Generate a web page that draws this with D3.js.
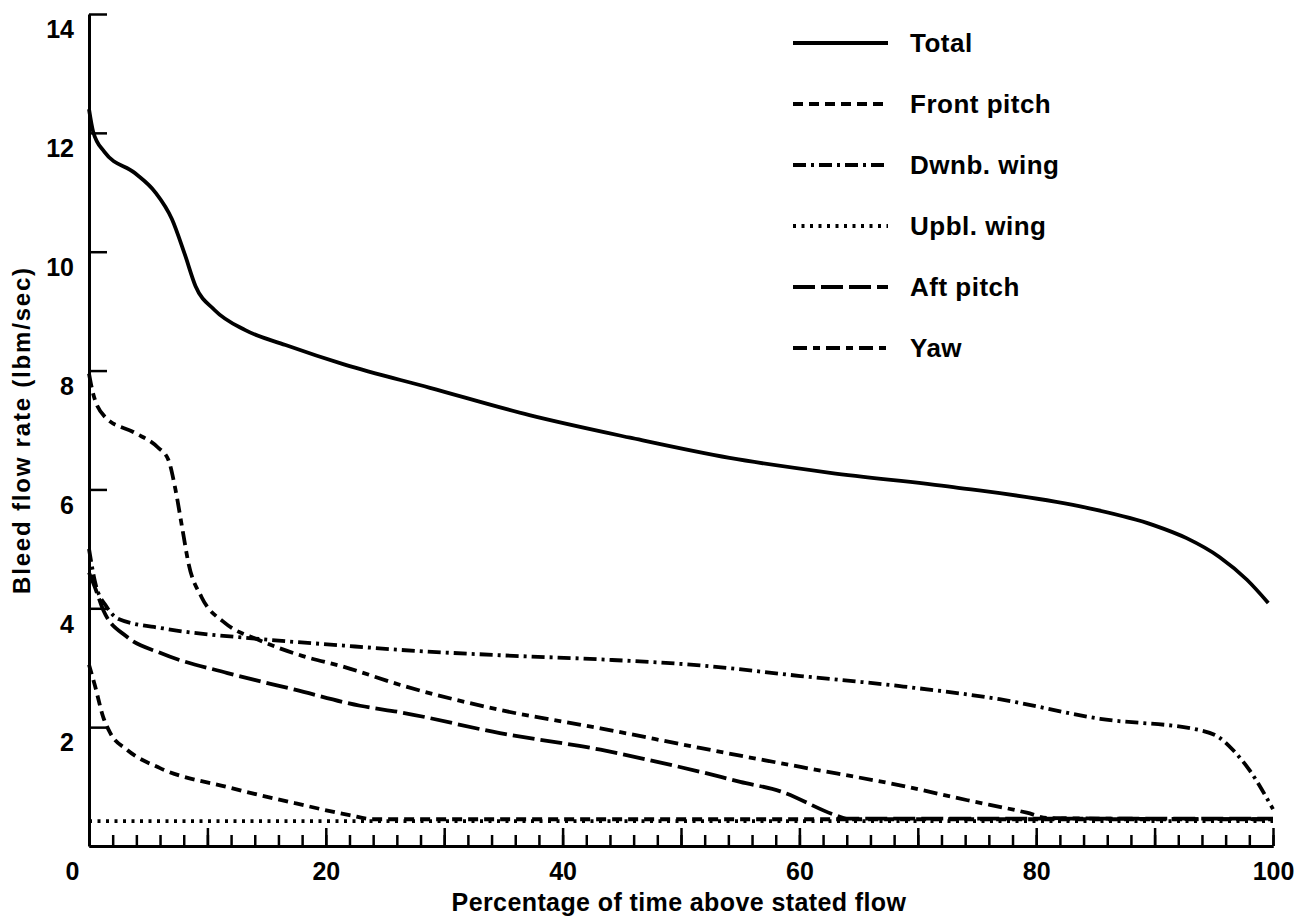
<!DOCTYPE html>
<html>
<head>
<meta charset="utf-8">
<script src="https://cdn.jsdelivr.net/npm/d3@7"></script>
<style>
  body { margin: 0; background: #fff; }
  svg text { font-family: "Liberation Sans", Arial, sans-serif; font-weight: bold; fill: #000; }
</style>
</head>
<body>
<svg id="chart" width="1302" height="920"></svg>
<script>
// series: [percent of time, bleed flow (lbm/sec)]
var total = [[0,12.4],[0.35,12.02],[1.3,11.68],[3.9,11.32],[5.6,11.0],[7.0,10.55],[8.1,9.95],[9.0,9.42],
  [10.6,9.02],[13.2,8.68],[16.6,8.43],[21.6,8.1],[28.8,7.71],[37.2,7.25],[45.7,6.87],[54.1,6.53],
  [62.6,6.28],[73.0,6.04],[84.3,5.69],[89.9,5.4],[92.7,5.18],[95.5,4.86],[97.8,4.48],[99.6,4.09]];
var frontPitch = [[0,3.05],[0.5,2.7],[1.2,2.17],[1.8,1.9],[3.2,1.62],[6.0,1.31],[11.7,0.99],[17.4,0.72],
  [22.0,0.52],[24.0,0.45],[100,0.45]];
var dwnbWing = [[0,5.0],[0.5,4.45],[1.5,4.02],[2.5,3.82],[6.3,3.66],[14.0,3.49],[21.0,3.38],[26.3,3.3],
  [34.7,3.21],[43.2,3.14],[51.6,3.04],[60.1,2.86],[68.5,2.69],[76.9,2.47],[85.4,2.14],[93.8,1.95],
  [95.5,1.82],[96.6,1.62],[98.0,1.28],[100,0.62]];
var upblWing = [[0,0.42],[100,0.42]];
var aftPitch = [[0,4.6],[0.6,4.3],[1.2,3.97],[3.2,3.52],[6.0,3.25],[11.7,2.91],[17.4,2.63],[22.9,2.36],
  [26.3,2.25],[34.7,1.9],[43.2,1.62],[47.0,1.46],[51.6,1.25],[55.0,1.08],[58.4,0.92],[62.9,0.53],
  [64.0,0.46],[100,0.46]];
var yaw = [[0,7.95],[0.3,7.65],[1.35,7.22],[3.9,6.95],[5.8,6.71],[6.7,6.5],[7.3,6.0],[7.9,5.32],
  [8.4,4.76],[9.5,4.19],[11.5,3.75],[14.3,3.47],[18.0,3.2],[21.6,3.01],[26.3,2.71],[34.7,2.29],
  [43.2,1.98],[51.6,1.65],[60.1,1.33],[68.5,1.02],[74.2,0.77],[79.2,0.56],[81.0,0.47],[100,0.45]];

var seriesNames = ["Total", "Front pitch", "Dwnb. wing", "Upbl. wing", "Aft pitch", "Yaw"];
var seriesData = [total, frontPitch, dwnbWing, upblWing, aftPitch, yaw];
var seriesDash = ["none", "10,6", "13,5,3,5", "3,5.5", "22,6", "14,6,7,6"];

var yTicks = [2, 4, 6, 8, 10, 12, 14];
var xMinorTicks = d3.range(0, 101, 2);
var xMajorTicks = [0, 10, 20, 30, 40, 50, 60, 70, 80, 90, 100];
var xLabels = [0, 20, 40, 60, 80, 100];

var svg = d3.select("#chart");

var x = d3.scaleLinear().domain([0, 100]).range([89, 1273]);
var y = d3.scaleLinear().domain([0, 14]).range([846, 14]);

// y axis, ticks point inward
var gy = svg.append("g")
    .attr("transform", "translate(" + x(0) + ",0)")
    .call(d3.axisLeft(y).tickValues(yTicks).tickSize(-18).tickSizeOuter(0).tickPadding(15));
gy.selectAll("text").attr("font-size", 25).attr("dy", "0.95em");

// x axis: minor ticks, major ticks, labels
var gxMinor = svg.append("g")
    .attr("transform", "translate(0," + y(0) + ")")
    .call(d3.axisBottom(x).tickValues(xMinorTicks).tickSize(-11).tickSizeOuter(0).tickFormat(""));
var gxMajor = svg.append("g")
    .attr("transform", "translate(0," + y(0) + ")")
    .call(d3.axisBottom(x).tickValues(xMajorTicks).tickSize(-18).tickSizeOuter(0).tickFormat(""));
var gxLab = svg.append("g")
    .attr("transform", "translate(0," + y(0) + ")")
    .call(d3.axisBottom(x).tickValues(xLabels).tickSize(0).tickPadding(16));
gxLab.select(".domain").remove();
gxLab.selectAll("text").attr("font-size", 25)
    .attr("dx", function(d) { return d === 0 ? -17 : 0; });

svg.selectAll(".domain").attr("stroke-width", 3);
svg.selectAll(".tick line").attr("stroke-width", 2.5);

// axis titles
svg.append("text")
    .attr("x", 679).attr("y", 911)
    .attr("text-anchor", "middle")
    .attr("font-size", 25)
    .attr("letter-spacing", 0.4)
    .text("Percentage of time above stated flow");
svg.append("text")
    .attr("transform", "translate(30,430) rotate(-90)")
    .attr("text-anchor", "middle")
    .attr("font-size", 24)
    .attr("letter-spacing", 1.8)
    .text("Bleed flow rate (lbm/sec)");

// curves
var line = d3.line()
    .x(function(d) { return x(d[0]); })
    .y(function(d) { return y(d[1]); })
    .curve(d3.curveMonotoneX);

svg.append("g").selectAll("path.series")
    .data(seriesData)
    .enter()
    .append("path")
      .attr("class", "series")
      .attr("d", line)
      .attr("fill", "none")
      .attr("stroke", "#000")
      .attr("stroke-width", 3.8)
      .attr("stroke-dasharray", function(d, i) { return seriesDash[i]; });

// legend
var legend = svg.append("g").selectAll("g")
    .data(seriesNames)
    .enter()
    .append("g")
      .attr("transform", function(d, i) { return "translate(793," + (43 + i * 61) + ")"; });
legend.append("line")
    .attr("x1", 0).attr("x2", 95)
    .attr("stroke", "#000")
    .attr("stroke-width", 3.8)
    .attr("stroke-dasharray", function(d, i) { return seriesDash[i]; });
legend.append("text")
    .attr("x", 117).attr("dy", "0.36em")
    .attr("font-size", 26)
    .attr("letter-spacing", 0.5)
    .text(function(d) { return d; });
</script>
</body>
</html>
